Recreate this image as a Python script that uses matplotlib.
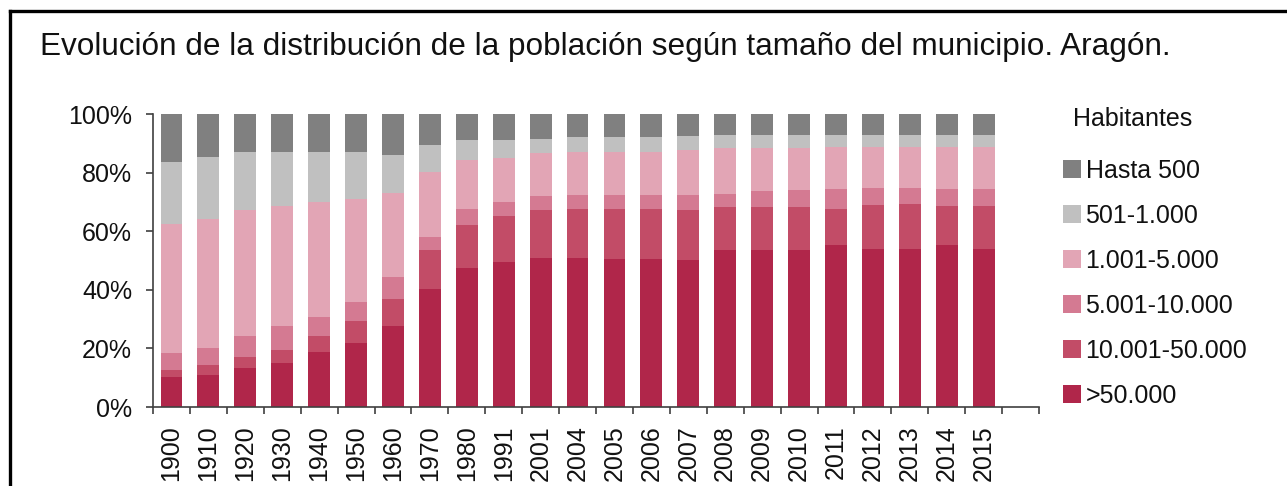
import matplotlib
matplotlib.use("Agg")
import matplotlib.pyplot as plt
from matplotlib.patches import Patch
from matplotlib.lines import Line2D
import numpy as np

plt.rcParams['font.family'] = ['Liberation Sans', 'DejaVu Sans']

years = ['1900', '1910', '1920', '1930', '1940', '1950', '1960', '1970', '1980',
         '1991', '2001', '2004', '2005', '2006', '2007', '2008', '2009', '2010',
         '2011', '2012', '2013', '2014', '2015']

gt_50000 = [10.2, 11.0, 13.3, 15.0, 18.9, 22.0, 27.5, 40.4, 47.4, 49.5, 50.8, 50.8,
            50.6, 50.6, 50.1, 53.7, 53.7, 53.7, 55.2, 53.9, 53.9, 55.2, 53.9]
r10001_50000 = [2.3, 3.4, 3.6, 4.3, 5.4, 7.5, 9.5, 13.3, 14.8, 15.6, 16.5, 16.9,
                17.1, 17.1, 17.2, 14.4, 14.4, 14.4, 12.4, 14.9, 15.4, 13.3, 14.6]
r5001_10000 = [5.9, 5.9, 7.4, 8.2, 6.4, 6.2, 7.2, 4.3, 5.4, 4.9, 4.6, 4.5,
               4.5, 4.5, 5.2, 4.6, 5.5, 5.8, 6.8, 5.9, 5.4, 5.9, 5.9]
r1001_5000 = [44.2, 43.9, 43.0, 41.2, 39.3, 35.4, 29.0, 22.1, 16.8, 15.0, 14.8, 15.0,
              15.0, 15.0, 15.3, 15.7, 14.8, 14.5, 14.2, 13.9, 14.2, 14.5, 14.2]
r501_1000 = [20.9, 21.1, 19.9, 18.5, 16.9, 15.8, 12.9, 9.2, 6.8, 6.2, 4.9, 4.8,
             4.8, 4.8, 4.6, 4.3, 4.3, 4.3, 4.1, 4.3, 4.0, 4.0, 4.3]
hasta_500 = [16.5, 14.7, 12.8, 12.8, 13.1, 13.1, 13.9, 10.7, 8.8, 8.8, 8.4, 8.0,
             8.0, 8.0, 7.6, 7.3, 7.3, 7.3, 7.3, 7.1, 7.1, 7.1, 7.1]

series_labels = ['>50.000', '10.001-50.000', '5.001-10.000', '1.001-5.000',
                 '501-1.000', 'Hasta 500']
series_values = [gt_50000, r10001_50000, r5001_10000, r1001_5000, r501_1000, hasta_500]
series_colors = ['#b0264a', '#c24c67', '#d47a92', '#e2a5b5', '#c0c0c0', '#808080']

W, H = 1287, 486
fig = plt.figure(figsize=(W / 100, H / 100), dpi=100)
fig.patch.set_facecolor('white')

ax = fig.add_axes([153 / W, 1 - 407 / H, 886 / W, 293 / H])

x = np.arange(len(years))
bottom = np.zeros(len(years))
handles = []
for vals, lab, col in zip(series_values, series_labels, series_colors):
    v = np.array(vals)
    ax.bar(x, v, 0.59, bottom=bottom, color=col, label=lab, linewidth=0)
    bottom += v
    handles.append(Patch(facecolor=col, label=lab))

FS = 18
ax.set_xlim(-0.5, len(years) + 0.5)
ax.set_ylim(0, 100)
ax.set_yticks([0, 20, 40, 60, 80, 100])
ax.set_yticklabels(['0%', '20%', '40%', '60%', '80%', '100%'], fontsize=FS, color='#111111')

ax.set_xticks(np.arange(-0.5, len(years) + 1, 1.0))
ax.set_xticklabels([])
ax.set_xticks(x, minor=True)
ax.set_xticklabels(years, minor=True, rotation=90, fontsize=FS, color='#111111')
ax.tick_params(axis='x', which='minor', length=0, pad=13)
ax.tick_params(axis='x', which='major', length=5, width=1.2, color='#404040', direction='out')
ax.tick_params(axis='y', length=5, width=1.2, color='#404040', direction='out', pad=10)

for s in ['top', 'right']:
    ax.spines[s].set_visible(False)
for s in ['left', 'bottom']:
    ax.spines[s].set_color('#404040')
    ax.spines[s].set_linewidth(1.2)

leg = fig.legend(handles=handles[::-1], loc='upper left',
                 bbox_to_anchor=(1063 / W, 1 - 159 / H), frameon=False,
                 borderpad=0, borderaxespad=0,
                 fontsize=FS, handlelength=0.7, handleheight=0.7,
                 handletextpad=0.2, labelspacing=0.84)
for t in leg.get_texts():
    t.set_color('#111111')

fig.text(1073 / W, 1 - 119 / H, 'Habitantes', fontsize=FS, color='#111111',
         va='center', ha='left')

fig.text(40 / W, 1 - 55 / H,
         'Evolución de la distribución de la población según tamaño del municipio. Aragón.',
         fontsize=22.7, color='#111111', va='baseline', ha='left')

# outer frame (left and top edges visible)
fig.add_artist(Line2D([10 / W, 10 / W], [0, 1 - 11 / H], transform=fig.transFigure,
                      color='black', linewidth=2.4))
fig.add_artist(Line2D([10 / W, 1], [1 - 11 / H, 1 - 11 / H], transform=fig.transFigure,
                      color='black', linewidth=2.4))

fig.savefig('out.png', dpi=100)
